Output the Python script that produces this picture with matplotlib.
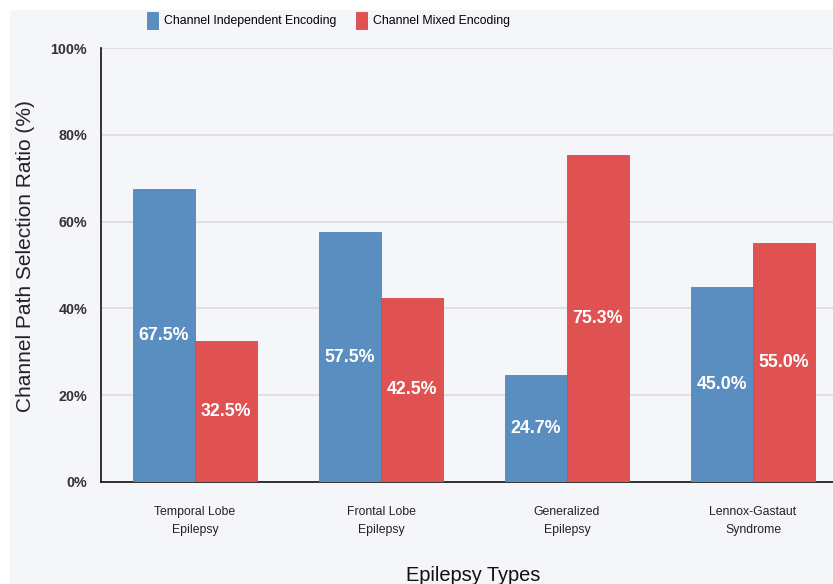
import numpy as np
import matplotlib.pyplot as plt
from matplotlib.patches import Rectangle

plt.rcParams['font.family'] = ['Liberation Sans', 'DejaVu Sans']

categories = ['Temporal Lobe\nEpilepsy', 'Frontal Lobe\nEpilepsy',
              'Generalized\nEpilepsy', 'Lennox-Gastaut\nSyndrome']
independent = [67.5, 57.5, 24.7, 45.0]
mixed = [32.5, 42.5, 75.3, 55.0]
series_names = ['Channel Independent Encoding', 'Channel Mixed Encoding']
yticks = [0, 20, 40, 60, 80, 100]

blue = '#5b8ec0'
red = '#e05151'

fig = plt.figure(figsize=(8.33, 5.84), dpi=100)
fig.patch.set_facecolor('white')
# light panel behind the plot
fig.patches.append(Rectangle((0.012, 0), 0.988, 0.983, transform=fig.transFigure,
                             facecolor='#f5f6fa', edgecolor='none', zorder=-10))

ax = fig.add_axes([0.1213, 0.1747, 0.8787, 0.7431])
ax.set_facecolor('#f5f6fa')

x = np.arange(len(categories))
w = 0.333
b1 = ax.bar(x - w / 2, independent, w, color=blue, edgecolor='#5486b8', linewidth=0.6,
            label=series_names[0], zorder=3)
b2 = ax.bar(x + w / 2, mixed, w, color=red, edgecolor='#d84848', linewidth=0.6,
            label=series_names[1], zorder=3)

for bars, vals in ((b1, independent), (b2, mixed)):
    for bar, v in zip(bars, vals):
        ax.text(bar.get_x() + bar.get_width() / 2, v / 2, f'{v:.1f}%',
                ha='center', va='center', color='white', fontsize=12.8,
                fontweight='bold', zorder=4)

ax.set_xlim(-0.505, 3.43)
ax.set_ylim(0, 100)
ax.set_yticks(yticks)
ax.set_yticklabels([f'{t}%' for t in yticks], fontsize=10.3, fontweight='bold', color='#333333')
ax.set_xticks(x)
ax.set_xticklabels(categories, fontsize=8.8, color='#222222', linespacing=1.75)
ax.tick_params(axis='both', length=0)
ax.tick_params(axis='x', pad=17)
ax.tick_params(axis='y', pad=10)

ax.grid(axis='y', color='#dcdcdc', linewidth=1.2, zorder=0)
ax.spines['top'].set_visible(False)
ax.spines['right'].set_visible(False)
ax.spines['left'].set_color('#111111')
ax.spines['bottom'].set_color('#111111')
ax.spines['left'].set_linewidth(1.2)
ax.spines['bottom'].set_linewidth(1.2)

ax.set_ylabel('Channel Path Selection Ratio (%)', fontsize=15, color='#222222')
ax.yaxis.set_label_coords(-0.09, 0.52)
ax.set_xlabel('Epilepsy Types', fontsize=14.4, color='#111111')
ax.xaxis.set_label_coords(0.509, -0.193)

fig.legend(handles=[b1, b2], loc='center', bbox_to_anchor=(0.394, 0.965), ncol=2,
           frameon=False, fontsize=8.8, handlelength=0.9, handleheight=1.7,
           handletextpad=0.5, columnspacing=1.6)

fig.savefig('out.png', dpi=100, facecolor=fig.get_facecolor())
